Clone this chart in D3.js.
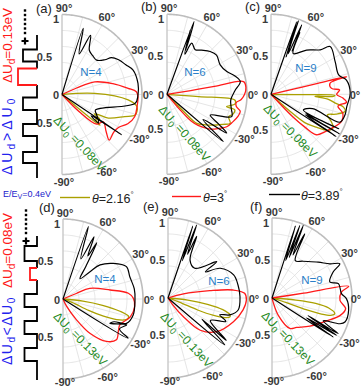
<!DOCTYPE html>
<html><head><meta charset="utf-8">
<script src="https://cdn.jsdelivr.net/npm/d3@7"></script>
<style>body{margin:0;background:#fff}svg{display:block;font-family:Arial,"Liberation Sans",sans-serif}</style>
</head><body><svg id="c" width="363" height="388"></svg>
<script>
// ---------------- data ----------------
const panelLabels = ["(a)","(b)","(c)","(d)","(e)","(f)"];
const nLabels = ["N=4","N=6","N=9","N=4","N=6","N=9"];
const du0Values = ["0.08","0.08","0.08","0.13","0.13","0.13"];
const thetaValues = ["2.16","3","3.89"];
const angleTicks = [90,60,30,0,-30,-60,-90];
const gridRings = [0.2,0.4,0.6,0.8];
const gridSpokes = [-75,-60,-45,-30,-15,0,15,30,45,60,75];
const rTickTop = ["1","0.5","0"];
const rTickValues = [1,0.5,0];
const duD = ["0.13","0.08"];

// curves: [angle in degrees, normalized r]
const olive_a = [[0,0],[2,0.41],[-4.7,0.83],[-9.3,0.95],[-15.7,0.95],[-19.4,0.83],[-27,0.65],[-29,0.52],[-31,0.47],[-33,0.56],[-36,0.52],[-39,0.61],[-40,0.35],[-40,0]];
const red_a = [[0,0],[24,0.2],[21,0.44],[12,0.65],[5.3,0.83],[2.1,0.93],[-1.6,0.95],[-9.3,0.95],[-17,0.95],[-24,0.9],[-30,0.82],[-36,0.8],[-44,0.82],[-40,0.72],[-33.5,0.62],[-40.6,0.57],[-45,0.3],[-45,0]];
const black_a = [[73,0],[72.2,0.87],[67,0.55],[64.2,0.82],[58.3,0.65],[52,0.62],[44.8,0.61],[39,0.69],[36.7,0.77],[31.5,0.83],[25,0.88],[19,0.94],[8.3,0.96],[-0.4,0.95],[-6.9,0.92],[-25,0.46],[-30,0.5],[-38,0.58],[-36,0.45],[-34,0.9],[-35,0]];

const olive_b = [[0,0],[-4,0.4],[-4.8,0.85],[-8,0.86],[-11.7,0.76],[-13,0.87],[-17,0.86],[-20,0.82],[-24.7,0.87],[-28,0.8],[-31.7,0.73],[-38,0.62],[-44.3,0.52],[-46,0.3],[-46,0]];
const red_b = [[0,0],[9,0.3],[9.4,0.6],[9.4,0.97],[5,0.99],[0,0.97],[-4,0.93],[-7,0.87],[-10,0.88],[-13,0.94],[-17,0.93],[-23,0.89],[-28.5,0.85],[-33,0.78],[-39,0.69],[-45,0.55],[-48,0.45],[-50,0.25],[-50,0]];
const black_b = [[71,0],[69.6,0.97],[67,0.6],[70,0.85],[66,0.55],[64.2,0.71],[57.7,0.66],[52,0.7],[44.8,0.76],[38.4,0.79],[29,0.76],[20.8,0.8],[15.1,0.88],[9.8,0.93],[3,0.85],[-5,0.8],[-12,0.82],[-19,0.855],[-25.7,0.6],[-30,0.75],[-33,0.89],[-35,0.55],[-40,0.92],[-41,0]];

const olive_c = [[0,0],[-0.5,0.5],[-1,0.8],[-2,0.78],[-2.5,0.55],[-5,0.72],[-8,0.82],[-10,0.92],[-13,0.95],[-17,0.85],[-20,0.75],[-24,0.82],[-28,0.88],[-32,0.85],[-36,0.7],[-40,0.55],[-42,0.3],[-42,0]];
const red_c = [[0,0],[13,0.3],[13.1,0.6],[13.1,0.97],[10.6,0.75],[5.6,0.76],[3.6,0.86],[0,0.82],[-3,0.9],[-6,0.95],[-10,0.85],[-15,0.93],[-22,0.94],[-28,0.88],[-35,0.82],[-41.7,0.76],[-44,0.6],[-46,0.4],[-46,0]];
const black_c = [[71,0],[70.5,0.96],[68,0.5],[69.6,0.98],[67,0.55],[66.1,0.95],[64,0.6],[65,0.85],[61.4,0.58],[51.2,0.71],[42.1,0.83],[38.9,0.95],[27,0.9],[16,0.88],[10.7,0.96],[0.7,0.99],[-9.3,0.96],[-15.6,0.96],[-22,0.93],[-19,0.55],[-26,0.45],[-27,0.95],[-29,0.5],[-30,0.99],[-31,0.5],[-33,0.97],[-34,0]];

const olive_d = [[0,0],[-6,0.25],[-9,0.5],[-12,0.72],[-15,0.85],[-18,0.83],[-21,0.72],[-23,0.55],[-24,0.35],[-20,0.12],[0,0]];
const red_d = [[0,0],[22.5,0.18],[21.6,0.36],[10.8,0.6],[5,0.82],[0.5,0.88],[-6,0.9],[-14.8,0.87],[-24.5,0.78],[-30,0.8],[-37.4,0.84],[-44.3,0.76],[-51.8,0.55],[-57,0.31],[-64,0.1],[-64,0]];
const black_d = [[72,0],[70.7,0.96],[66,0.55],[63.5,0.87],[60,0.62],[59,0.82],[55,0.5],[50,0.33],[45.3,0.48],[42.6,0.63],[35.3,0.77],[27,0.89],[18.4,0.88],[8,0.9],[-0.8,0.9],[-12.8,0.9],[-21,0.85],[-24,0.7],[-27.4,0.66],[-22,0.86],[-28,0.8],[-31,0.95],[-31,0]];

const olive_e = [[0,0],[-6,0.25],[-9,0.5],[-12,0.7],[-15,0.8],[-17,0.81],[-19,0.75],[-21,0.6],[-22,0.4],[-20,0.15],[0,0]];
const red_e = [[0,0],[15,0.2],[9.9,0.53],[7,0.82],[3.5,0.96],[-1.5,0.98],[-9,0.95],[-19.9,0.87],[-34.7,0.74],[-45,0.57],[-50.6,0.3],[-55,0.1],[-55,0]];
const black_e = [[72,0],[71,0.95],[69,0.5],[68.6,0.98],[66,0.6],[65,0.85],[60,0.55],[48,0.5],[36.7,0.76],[35,0.57],[29.7,0.75],[19.4,0.87],[10.5,0.89],[1,0.9],[-9.7,0.89],[-15.3,0.8],[-18,0.68],[-22,0.78],[-28,0.6],[-36,0.9],[-32,0.5],[-39.5,0.92],[-40,0]];

const olive_f = [[0,0],[-5,0.3],[-7,0.55],[-10,0.72],[-14,0.81],[-16,0.78],[-18,0.65],[-19,0.45],[-18,0.2],[0,0]];
const red_f = [[0,0],[8.7,0.4],[8.7,0.97],[4.9,0.87],[-2,0.85],[-8.2,0.93],[-14.3,0.88],[-22.8,0.74],[-36.7,0.59],[-50,0.48],[-59.6,0.44],[-70,0.23],[-75,0.05],[0,0]];
const black_f = [[73,0],[72,0.95],[70,0.5],[69,0.97],[67,0.55],[66.7,0.99],[64,0.6],[63,0.9],[58,0.55],[50,0.6],[37.8,0.73],[30.6,0.84],[26.8,0.95],[23,0.83],[15.4,0.75],[12.2,0.85],[3.6,0.87],[-0.5,0.93],[-9.2,0.97],[-18.2,0.96],[-20.7,0.91],[-24,0.7],[-28.3,0.94],[-26,0.5],[-30,0.93],[-30,0.5],[-32.5,0.91],[-34,0]];

const curves = [
  [olive_a, red_a, black_a],[olive_b, red_b, black_b],[olive_c, red_c, black_c],
  [olive_d, red_d, black_d],[olive_e, red_e, black_e],[olive_f, red_f, black_f]
];

// ---------------- layout ----------------
const COLORS = ["#aaa000","#ff1a1a","#000000"];
const R = 80;
const centers = [[62,94.5],[167,94.3],[271,94.3],[63,299],[168,298],[272,298]];
const halfOff = [10,4,3,10,3,2];
const halfBelow = [28,35,35.5,38,37,37];
const bottomLab = [87,87,87,83,83,83];
const titlePos = [[36,13],[141,10.5],[245,10.5],[39,212],[143,210.5],[250,210.5]];
const nPos = [[91,76],[195,76],[306,72],[105,283],[219,285],[312,284]];
const gPos = [[52.7,120.8],[158,110],[262.7,109],[52.7,317],[159.7,317],[260.7,316]];
const gRot = [47,48,45,45,47,46];

const svg = d3.select("#c");
const rScale = d3.scaleLinear().domain([0,1]).range([0,R]);
const aScale = d3.scaleLinear().domain([-90,90]).range([Math.PI,0]);
const pt = (deg,r) => { const a = aScale(deg); return [rScale(r)*Math.sin(a), -rScale(r)*Math.cos(a)]; };

const gridLayer = svg.append("g");
const curveLayer = svg.append("g");
const textLayer = svg.append("g");

centers.forEach(([cx,cy],i) => {
  const g = gridLayer.append("g").attr("transform",`translate(${cx},${cy})`);
  gridRings.forEach(r => {
    g.append("path")
      .attr("d", d3.lineRadial().angle(d=>aScale(d)).radius(rScale(r))(d3.range(-90,90.5,1)))
      .attr("fill","none").attr("stroke","#dedede").attr("stroke-width",0.8);
  });
  gridSpokes.forEach(a => {
    const [x,y] = pt(a,1);
    g.append("line").attr("x1",0).attr("y1",0).attr("x2",x).attr("y2",y)
      .attr("stroke","#dedede").attr("stroke-width",0.8);
  });
  g.append("path")
    .attr("d", d3.lineRadial().angle(d=>aScale(d)).radius(rScale(1))(d3.range(-90,90.5,1)))
    .attr("fill","none").attr("stroke","#bdbdbd").attr("stroke-width",1.6);
  const [tx,ty] = pt(90,1), [bx,by] = pt(-90,1);
  g.append("line").attr("x1",tx).attr("y1",ty).attr("x2",bx).attr("y2",by)
    .attr("stroke","#c8c8c8").attr("stroke-width",1.4);

  // curves
  const cg = curveLayer.append("g").attr("transform",`translate(${cx},${cy})`);
  const line = d3.lineRadial().angle(d=>aScale(d[0])).radius(d=>rScale(d[1])).curve(d3.curveCatmullRom.alpha(0.5));
  curves[i].forEach((c,k) => {
    cg.append("path").attr("d", line(c)).attr("fill","none")
      .attr("stroke",COLORS[k]).attr("stroke-width",k===2?1.2:1.3).attr("stroke-linejoin","round");
  });

  // texts
  const tg = textLayer.append("g").attr("transform",`translate(${cx},${cy})`);
  angleTicks.forEach(a => {
    let x,y;
    if (a===90) { x=2; y=-86.5; }
    else if (a===-90) { x=2; y=bottomLab[i]; }
    else if (a===0) { x = i%3===2 ? 84 : 86; y = 0.5; }
    else { [x,y] = pt(a, 1 + 9.5/R); }
    tg.append("text").attr("x",x).attr("y",y).attr("text-anchor","middle")
      .attr("dominant-baseline","central").attr("font-size",11).attr("font-weight","bold")
      .attr("fill","#3a3a3a").text(a+"°");
  });
  rTickValues.forEach((v,j) => {
    const off = v===0.5 ? halfOff[i] : 3;
    tg.append("text").attr("x",-off).attr("y", v===0.5 ? -38 : (v===1 ? -75.5 : 0.5))
      .attr("text-anchor","end").attr("dominant-baseline","central")
      .attr("font-size",11).attr("font-weight","bold").attr("fill","#3a3a3a").text(rTickTop[j]);
  });
  tg.append("text").attr("x",-halfOff[i]).attr("y",halfBelow[i])
    .attr("text-anchor","end").attr("dominant-baseline","central")
    .attr("font-size",11).attr("font-weight","bold").attr("fill","#3a3a3a").text("0.5");

  textLayer.append("text").attr("x",titlePos[i][0]).attr("y",titlePos[i][1])
    .attr("font-size",13).attr("fill","#222").text(panelLabels[i]);
  textLayer.append("text").attr("x",nPos[i][0]).attr("y",nPos[i][1]).attr("text-anchor","middle")
    .attr("font-size",11.5).attr("fill","#2b7fc9").text(nLabels[i]);
  const gt = textLayer.append("text")
    .attr("transform",`translate(${gPos[i][0]},${gPos[i][1]}) rotate(${gRot[i]})`)
    .attr("font-size",12).attr("fill","#1e8a1e");
  gt.append("tspan").text("ΔU");
  gt.append("tspan").attr("font-size",9).attr("dy",3).text("0");
  gt.append("tspan").attr("dy",-3).text(" =" + du0Values[i] + "eV");
});

// ---------------- legend ----------------
const leg = svg.append("g");
const e = leg.append("text").attr("x",3).attr("y",197).attr("font-size",9).attr("fill","#2222cc");
e.append("tspan").text("E/E");
e.append("tspan").attr("font-size",7).attr("dy",2).text("V");
e.append("tspan").attr("dy",-2).text("=0.4eV");
const legX = [[60,90,92],[172,201,203],[269,300,301]];
const legY = [197.5,196.5,194.5];
thetaValues.forEach((v,k) => {
  leg.append("line").attr("x1",legX[k][0]).attr("x2",legX[k][1]).attr("y1",legY[k]).attr("y2",legY[k])
    .attr("stroke",COLORS[k]).attr("stroke-width",1.4);
  const t = leg.append("text").attr("x",legX[k][2]).attr("y",legY[k]+5).attr("font-size",12.5).attr("fill","#222");
  t.append("tspan").attr("font-style","italic").text("θ");
  t.append("tspan").text("=" + v);
  t.append("tspan").attr("font-size",8).attr("dy",-6).text("°");
});

// ---------------- schematic ----------------
const schem = [
  {top:35, bot:178, dotY:[10.5,15,19.5,24,28.5,33], plus:[25,41], dotX:25,
   wells:[[49.5,61.5,23,0],[68.5,85,18,1],[97.5,110,23,0],[124,136,23,0],[152,163,23,0]],
   red:{y:83, text:duD[0]}, blue:{y:175, sym:">", ls:3}},
  {top:236, bot:380, dotY:[210.5,215,219.5,224,228.5,233], plus:[26,241], dotX:26,
   wells:[[246,261,24.5,0],[268,280,30,1],[294,307,24.5,0],[321,334,24.5,0],[348,361,24.5,0]],
   red:{y:288, text:duD[1]}, blue:{y:365, sym:"<", ls:1.5}}
];
const BX = 37;
schem.forEach(s => {
  const p = d3.path();
  p.moveTo(BX, s.top);
  s.wells.forEach(w => {
    p.lineTo(BX, w[0]);
    if (w[3]) { p.moveTo(BX, w[1]); }
    else { p.lineTo(w[2], w[0]); p.lineTo(w[2], w[1]); p.lineTo(BX, w[1]); }
  });
  p.lineTo(BX, s.bot);
  svg.append("path").attr("d", p.toString()).attr("fill","none").attr("stroke","#000").attr("stroke-width",1.8);
  s.wells.filter(w=>w[3]).forEach(w => {
    const q = d3.path();
    q.moveTo(BX, w[0]); q.lineTo(w[2], w[0]); q.lineTo(w[2], w[1]); q.lineTo(BX, w[1]);
    svg.append("path").attr("d", q.toString()).attr("fill","none").attr("stroke","#ff1a1a").attr("stroke-width",1.8);
  });
  s.dotY.forEach(y => svg.append("rect").attr("x",s.dotX-1.2).attr("y",y-1.2).attr("width",2.4).attr("height",2.4).attr("fill","#000"));
  svg.append("path").attr("d",`M${s.plus[0]-3.5},${s.plus[1]}H${s.plus[0]+3.5}M${s.plus[0]},${s.plus[1]-3.5}V${s.plus[1]+3.5}`)
    .attr("stroke","#000").attr("stroke-width",2.2);
  const rt = svg.append("text").attr("transform",`translate(12,${s.red.y}) rotate(-90)`).attr("font-size",13.5).attr("fill","#ff1a1a");
  rt.append("tspan").text("ΔU");
  rt.append("tspan").attr("font-size",10).attr("dy",3).text("d");
  rt.append("tspan").attr("dy",-3).text("=" + s.red.text + "eV");
  const bt = svg.append("text").attr("transform",`translate(12,${s.blue.y}) rotate(-90)`).attr("font-size",14)
    .attr("fill","#2222ee").attr("letter-spacing",s.blue.ls);
  bt.append("tspan").text("ΔU");
  bt.append("tspan").attr("font-size",10).attr("dy",3).text("d");
  bt.append("tspan").attr("dy",-3).text(s.blue.sym + "ΔU");
  bt.append("tspan").attr("font-size",10).attr("dy",3).text("0");
});
</script></body></html>
